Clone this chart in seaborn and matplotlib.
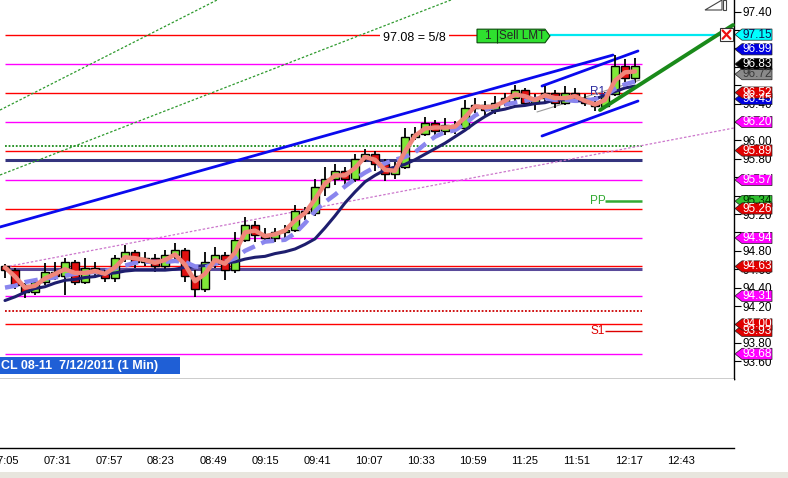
import numpy as np
import pandas as pd
import matplotlib
matplotlib.use("Agg")
import matplotlib.pyplot as plt
import matplotlib.transforms as mtransforms
from matplotlib.patches import Polygon, Rectangle
import seaborn as sns

sns.set_style("white")
plt.rcParams['font.family'] = ['Liberation Sans', 'DejaVu Sans']

# ---------------- data ----------------
SESSION_DAY = "2011-07-12"
SESSION_START = pd.Timestamp(SESSION_DAY + " 07:05")
bar_times = pd.date_range(SESSION_START, periods=64, freq="5min")

opens = [94.63, 94.59, 94.43, 94.35, 94.46, 94.57, 94.53, 94.68, 94.46, 94.61,
         94.57, 94.50, 94.72, 94.79, 94.68, 94.72, 94.63, 94.75, 94.81, 94.53,
         94.39, 94.68, 94.75, 94.59, 94.92, 95.08, 94.97, 94.94, 95.01, 95.03,
         95.23, 95.21, 95.49, 95.58, 95.67, 95.58, 95.80, 95.85, 95.74, 95.63,
         95.71, 96.04, 96.07, 96.19, 96.10, 96.17, 96.13, 96.35, 96.39, 96.33,
         96.41, 96.46, 96.55, 96.41, 96.46, 96.52, 96.41, 96.51, 96.46, 96.41,
         96.37, 96.50, 96.81, 96.68]
highs = [94.66, 94.61, 94.45, 94.48, 94.67, 94.68, 94.72, 94.70, 94.72, 94.68,
         94.59, 94.75, 94.86, 94.81, 94.79, 94.77, 94.81, 94.88, 94.83, 94.59,
         94.79, 94.84, 94.79, 95.00, 95.17, 95.12, 95.05, 95.05, 95.08, 95.30,
         95.28, 95.58, 95.71, 95.74, 95.71, 95.85, 95.91, 95.89, 95.80, 95.77,
         96.13, 96.15, 96.25, 96.22, 96.24, 96.21, 96.44, 96.46, 96.43, 96.48,
         96.51, 96.60, 96.57, 96.50, 96.59, 96.55, 96.59, 96.57, 96.50, 96.48,
         96.53, 96.93, 96.88, 96.90]
lows = [94.51, 94.39, 94.29, 94.32, 94.43, 94.48, 94.32, 94.43, 94.44, 94.50,
        94.46, 94.46, 94.68, 94.61, 94.64, 94.57, 94.59, 94.68, 94.46, 94.30,
        94.35, 94.61, 94.48, 94.56, 94.90, 94.90, 94.89, 94.90, 94.92, 95.00,
        95.14, 95.18, 95.40, 95.52, 95.49, 95.55, 95.77, 95.67, 95.56, 95.58,
        95.69, 96.00, 96.05, 96.04, 96.06, 96.07, 96.10, 96.30, 96.26, 96.29,
        96.37, 96.43, 96.37, 96.33, 96.40, 96.35, 96.39, 96.41, 96.37, 96.32,
        96.35, 96.48, 96.63, 96.62]
closes = [94.59, 94.43, 94.35, 94.46, 94.57, 94.53, 94.68, 94.46, 94.61, 94.57,
          94.50, 94.72, 94.79, 94.68, 94.72, 94.63, 94.75, 94.81, 94.53, 94.39,
          94.68, 94.75, 94.59, 94.92, 95.08, 94.97, 94.94, 95.01, 95.03, 95.23,
          95.21, 95.49, 95.58, 95.67, 95.58, 95.80, 95.85, 95.74, 95.63, 95.71,
          96.04, 96.07, 96.19, 96.10, 96.17, 96.13, 96.35, 96.39, 96.33, 96.41,
          96.46, 96.55, 96.41, 96.46, 96.52, 96.41, 96.51, 96.46, 96.41, 96.37,
          96.50, 96.81, 96.68, 96.81]

fast_ma = [94.62, 94.52, 94.40, 94.42, 94.50, 94.55, 94.60, 94.56, 94.56, 94.58,
           94.55, 94.62, 94.73, 94.72, 94.70, 94.67, 94.70, 94.76, 94.65, 94.47,
           94.55, 94.70, 94.66, 94.78, 95.00, 95.02, 94.96, 94.98, 95.02, 95.13,
           95.21, 95.36, 95.53, 95.62, 95.62, 95.70, 95.82, 95.79, 95.68, 95.67,
           95.88, 96.05, 96.13, 96.14, 96.14, 96.15, 96.25, 96.37, 96.36, 96.37,
           96.43, 96.50, 96.48, 96.44, 96.49, 96.46, 96.46, 96.48, 96.43, 96.39,
           96.44, 96.65, 96.74, 96.75]
mid_ma = [94.40, 94.42, 94.46, 94.48, 94.50, 94.51, 94.53, 94.55, 94.56, 94.57,
          94.58, 94.61, 94.64, 94.67, 94.68, 94.68, 94.68, 94.69, 94.68, 94.63,
          94.62, 94.66, 94.68, 94.72, 94.80, 94.85, 94.90, 94.91, 94.92, 94.99,
          95.10, 95.23, 95.33, 95.41, 95.50, 95.58, 95.65, 95.71, 95.75, 95.79,
          95.82, 95.87, 95.96, 96.04, 96.09, 96.11, 96.18, 96.27, 96.33, 96.37,
          96.39, 96.41, 96.43, 96.45, 96.46, 96.44, 96.44, 96.43, 96.43, 96.45,
          96.49, 96.56, 96.61, 96.64]
slow_ma = [94.26, 94.30, 94.35, 94.39, 94.41, 94.45, 94.48, 94.49, 94.51, 94.52,
           94.55, 94.56, 94.58, 94.59, 94.59, 94.59, 94.59, 94.60, 94.62, 94.63,
           94.64, 94.66, 94.67, 94.68, 94.71, 94.73, 94.74, 94.77, 94.79, 94.82,
           94.87, 94.93, 95.05, 95.18, 95.32, 95.44, 95.55, 95.62, 95.68, 95.71,
           95.74, 95.79, 95.85, 95.91, 95.97, 96.04, 96.11, 96.19, 96.26, 96.32,
           96.34, 96.37, 96.38, 96.40, 96.41, 96.44, 96.44, 96.43, 96.43, 96.45,
           96.49, 96.53, 96.57, 96.59]

time_tick_labels = ["07:05", "07:31", "07:57", "08:23", "08:49", "09:15", "09:41",
                    "10:07", "10:33", "10:59", "11:25", "11:51", "12:17", "12:43"]
price_ticks = [93.60, 93.80, 94.00, 94.20, 94.40, 94.60, 94.80, 95.00, 95.20,
               95.40, 95.60, 95.80, 96.00, 96.20, 96.40, 96.60, 96.80, 97.00,
               97.20, 97.40]
# tick labels left uncovered by the price tags
price_tick_labels = ["93.60", "93.80", "", "94.20", "94.40", "94.60", "94.80", "",
                     "95.20", "", "", "95.80", "96.00", "", "96.40", "", "", "",
                     "", "97.40"]

# horizontal price levels (drawn to the last bar)
level_prices = [96.83, 96.52, 96.20, 95.94, 95.89, 95.79, 95.57, 95.26, 94.94,
                94.60, 94.63, 94.31, 94.15, 94.00, 93.68]
level_look = [("#ff00ff", 1.0, "-"), ("#ff0000", 1.0, "-"), ("#ff00ff", 1.0, "-"),
              ("#1a8a1a", 1.3, (0, (1, 1))), ("#ff0000", 1.0, "-"), ("#34347e", 2.2, "-"),
              ("#ff00ff", 1.0, "-"), ("#ff0000", 1.0, "-"), ("#ff00ff", 1.0, "-"),
              ("#5a4a9a", 2.2, "-"), ("#ff0000", 1.0, "-"), ("#ff00ff", 1.0, "-"),
              ("#cc0000", 1.3, (0, (1, 1))), ("#ff0000", 1.0, "-"), ("#ff00ff", 1.0, "-")]
levels_end = "12:23:30"

fib_price = 97.15
fib_label = "97.08 = 5/8"
fib_label_at = "10:29:45"
order_price = 97.135
order_span = ["11:01", "11:11", "11:35", "11:37:30", "13:02:30"]
order_qty = "1"
order_text = "Sell LMT"

pivot_names = ["R1", "PP", "S1"]
pivot_prices = [96.53, 95.34, 93.93]
pivot_label_at = "12:01:30"
pivot_span = ["12:05", "12:23:30"]

# trend lines: (time, price) anchors
trend_green_a = (["07:02:30", "09:05"], [96.33, 97.68])
trend_green_b = (["07:02:30", "11:05"], [95.624, 97.67])
trend_blue_long = (["07:02:30", "12:09"], [95.059, 96.928])
trend_blue_up = (["11:33:30", "12:21:30"], [96.591, 96.972])
trend_blue_dn = (["11:33:30", "12:21:30"], [96.048, 96.428])
trend_pink = (["07:05", "13:09:30"], [94.624, 96.135])
trend_green_thick = (["12:02:30", "13:09"], [96.33, 97.254])
trend_gray = (["11:31", "12:22:30"], [96.309, 96.656])

tag_values = [96.45, 93.93, 95.34, 97.15, 96.99, 96.72, 96.83, 96.52, 96.20,
              95.89, 95.57, 95.26, 94.94, 94.63, 94.31, 94.00, 93.68]
tag_labels = ["96.45", "93.93", "95.34", "97.15", "96.99", "96.72", "96.83", "96.52",
              "96.20", "95.89", "95.57", "95.26", "94.94", "94.63", "94.31", "94.00",
              "93.68"]
tag_colors = [("#0000e0", "white"), ("#e00000", "white"), ("#30c030", "#003300"),
              ("#00ffff", "#101050"), ("#0000e0", "white"), ("#8a8a8a", "#3a3a3a"),
              ("#000000", "white"), ("#e00000", "white"), ("#ff00ff", "white"),
              ("#e00000", "white"), ("#ff00ff", "white"), ("#e00000", "white"),
              ("#ff00ff", "white"), ("#e00000", "white"), ("#ff00ff", "white"),
              ("#e00000", "white"), ("#ff00ff", "white")]

chart_title = "CL 08-11  7/12/2011 (1 Min)"


def to_min(t):
    return (pd.Timestamp(SESSION_DAY + " " + t) - SESSION_START).total_seconds() / 60.0


# ---------------- figure ----------------
W, H = 788, 478
fig = plt.figure(figsize=(W / 100, H / 100), dpi=100)
fig.patch.set_facecolor("white")
ax = fig.add_axes([0, (H - 379) / H, 734 / W, 379 / H])
ax2 = fig.add_axes([0, (H - 448) / H, 734 / W, (448 - 379) / H])

xmin, xmax = -2.5, 364.5
ax.set_xlim(xmin, xmax)
ax.set_ylim(93.407, 97.526)
ax2.set_xlim(xmin, xmax)

bx = np.array([(t - SESSION_START).total_seconds() / 60.0 for t in bar_times])
o = np.array(opens); h = np.array(highs); l = np.array(lows); c = np.array(closes)

# level lines
lend = to_min(levels_end)
for p, (col, lw, ls) in zip(level_prices, level_look):
    ax.hlines(p, 0, lend, colors=col, linewidth=lw, linestyles=ls, zorder=2)

o0, o1, o2, o3, o4 = [to_min(t) for t in order_span]
ax.hlines(fib_price, 0, o0, colors="#ff0000", linewidth=1.0, zorder=2)
ax.text(to_min(fib_label_at), fib_price - 0.04, fib_label, fontsize=9, ha="center",
        va="center", color="black", zorder=10,
        bbox=dict(boxstyle="square,pad=0.25", facecolor="white", edgecolor="none"))

# pivot markers
ps0, ps1 = to_min(pivot_span[0]), to_min(pivot_span[1])
piv_col = {"R1": "#2a2aa0", "PP": "#33aa33", "S1": "#dd0000"}
for name, p in zip(pivot_names, pivot_prices):
    ax.text(to_min(pivot_label_at), p, name, color=piv_col[name], fontsize=8.5,
            ha="center", va="center", zorder=9)
    if name != "R1":
        ax.hlines(p, ps0, ps1, colors=piv_col[name],
                  linewidth=1.8 if name == "PP" else 1.0, zorder=2)

# trend lines
def trend(tl, **kw):
    xs = [to_min(t) for t in tl[0]]
    ax.plot(xs, tl[1], **kw)

trend(trend_green_a, color="#2e9a2e", lw=0.9, ls=(0, (2, 1.5)), zorder=2)
trend(trend_green_b, color="#2e9a2e", lw=0.9, ls=(0, (2, 1.5)), zorder=2)
trend(trend_pink, color="#cc77cc", lw=0.9, ls=(0, (2, 1.5)), zorder=2)
trend(trend_gray, color="#9a9a9a", lw=0.8, zorder=2)
trend(trend_blue_long, color="#0a0aee", lw=2.0, zorder=2.5)
trend(trend_blue_up, color="#0a0aee", lw=2.0, zorder=2.5)
trend(trend_blue_dn, color="#0a0aee", lw=2.0, zorder=2.5)

# candles
ax.vlines(bx, l, h, colors="black", linewidth=1.3, zorder=3)
up = c >= o
body_col = np.where(up, "#80e838", "#e01010")
heights = np.where(np.abs(c - o) < 0.012, 0.012, c - o)
ax.bar(bx, heights, bottom=o, width=3.6, color=body_col, edgecolor="black",
       linewidth=1.0, zorder=4)

# moving averages
sns.lineplot(x=bx, y=slow_ma, ax=ax, color="#1e1e6e", lw=2.2, estimator=None,
             sort=False, legend=False, zorder=5)
sns.lineplot(x=bx, y=mid_ma, ax=ax, color="#8a86ee", lw=3.2, estimator=None,
             sort=False, legend=False, zorder=6, linestyle=(0, (3, 1.6)))
sns.lineplot(x=bx, y=fast_ma, ax=ax, color="#f0867a", lw=3.2, estimator=None,
             sort=False, legend=False, zorder=7)

# order line / green trend / X box
ax.hlines(fib_price, o3, o4, colors="#00e8f0", linewidth=1.6, zorder=2)
trend(trend_green_thick, color="#1a8a1a", lw=2.8, zorder=8, clip_on=False)
bh = 0.074
ax.add_patch(Polygon([(o0, order_price - bh), (o2, order_price - bh), (o3, order_price),
                      (o2, order_price + bh), (o0, order_price + bh)], closed=True,
                     facecolor="#2fe02f", edgecolor="#0a4a0a", lw=0.8, zorder=9))
ax.vlines(o1, order_price - bh, order_price + bh, colors="#0a4a0a", lw=0.8, zorder=10)
ax.text((o0 + o1) / 2, order_price, order_qty, fontsize=8.5, ha="center", va="center", zorder=10)
ax.text((o1 + o2) / 2 + 0.5, order_price, order_text, fontsize=8.5, ha="center",
        va="center", zorder=10)
ax.add_patch(Rectangle((o4, fib_price - 0.07), 6.5, 0.14, facecolor="white",
                       edgecolor="#333333", lw=0.8, zorder=11, clip_on=False))
ax.plot([o4 + 1.3, o4 + 5.2], [fib_price - 0.045, fib_price + 0.045], color="#ee1111",
        lw=1.6, zorder=12, clip_on=False)
ax.plot([o4 + 1.3, o4 + 5.2], [fib_price + 0.045, fib_price - 0.045], color="#ee1111",
        lw=1.6, zorder=12, clip_on=False)

# price axis styling
for s in ["top", "left"]:
    ax.spines[s].set_visible(False)
for s in ["right", "bottom"]:
    ax.spines[s].set_color("black")
    ax.spines[s].set_linewidth(1.0)
ax.set_xticks([])
ax.set_yticks(price_ticks)
ax.set_yticklabels(price_tick_labels)
ax.tick_params(axis="y", which="both", left=False, right=True, labelleft=False,
               labelright=True, direction="out", length=5, width=0.8, labelsize=8.5,
               pad=1, colors="black")
ax.set_xlabel(""); ax.set_ylabel("")

# right-axis price tags
trans = mtransforms.blended_transform_factory(ax.transAxes, ax.transData)
axw = 734.0
hh = 5.6 / 92.0
for val, lab, (fc, tc) in zip(tag_values, tag_labels, tag_colors):
    x0, x1, x2 = 1 + 1 / axw, 1 + 8 / axw, 1 + 38 / axw
    poly = Polygon([(x0, val), (x1, val + hh), (x2, val + hh), (x2, val - hh), (x1, val - hh)],
                   closed=True, transform=trans, facecolor=fc, edgecolor="#202020",
                   lw=0.5, clip_on=False, zorder=20)
    ax.add_patch(poly)
    ax.text(1 + 23.5 / axw, val, lab, transform=trans, ha="center", va="center",
            color=tc, fontsize=8.5, zorder=21, clip_on=False)

# lower pane / time axis
for s in ["top", "left", "right"]:
    ax2.spines[s].set_visible(False)
ax2.spines["bottom"].set_color("black")
ax2.spines["bottom"].set_linewidth(1.0)
ax2.set_yticks([])
ax2.set_xticks([to_min(t) for t in time_tick_labels])
ax2.set_xticklabels(time_tick_labels)
ax2.tick_params(axis="x", direction="out", length=4, width=0.8, labelsize=8, pad=2,
                colors="black")

# chart title box
fig.patches.append(Rectangle((0, (H - 374) / H), 180 / W, 17 / H, transform=fig.transFigure,
                             facecolor="#1f5fd6", edgecolor="none", zorder=30))
fig.text(1 / W, (H - 365.5) / H, chart_title, color="white", fontsize=9, fontweight="bold",
         ha="left", va="center", zorder=31)

# top-right drawing-tool glyph and window strip
fig.add_artist(plt.Polygon([(705 / W, (H - 10) / H), (722 / W, 1.0), (722 / W, (H - 10) / H)],
                           closed=True, fill=False, edgecolor="#444444", lw=0.8,
                           transform=fig.transFigure))
fig.patches.append(Rectangle((723 / W, (H - 10) / H), 3 / W, 10 / H, transform=fig.transFigure,
                             fill=False, edgecolor="#444444", lw=0.8))
fig.patches.append(Rectangle((0, 0), 1, 6 / H, transform=fig.transFigure,
                             facecolor="#e8e6de", edgecolor="none"))

fig.savefig("out.png", dpi=100)
